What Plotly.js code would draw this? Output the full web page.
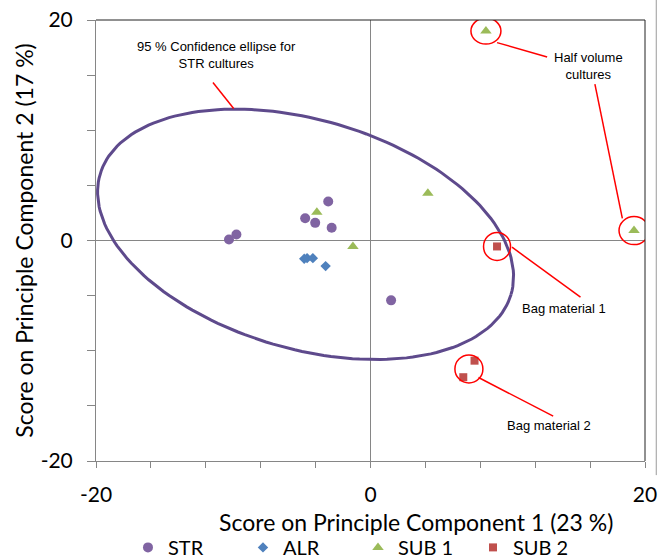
<!DOCTYPE html>
<html><head><meta charset="utf-8">
<script src="https://cdn.plot.ly/plotly-3.0.1.min.js"></script>
<style>html,body{margin:0;padding:0;background:#fff}#chart{width:658px;height:558px}</style>
</head><body><div id="chart"></div>
<script>
// ---- data ----
const strX  = [-10.31, -9.77, -4.76, -4.03, -3.08, -2.83, 1.50];
const strY  = [0.09, 0.54, 2.02, 1.60, 3.53, 1.15, -5.43];
const alrX  = [-4.83, -4.62, -4.20, -3.27];
const alrY  = [-1.66, -1.60, -1.60, -2.32];
const sub1X = [-3.91, -1.28, 4.18, 8.41, 19.20];
const sub1Y = [2.56, -0.54, 4.28, 19.00, 0.90];
const sub2X = [9.22, 7.58, 6.76];
const sub2Y = [-0.54, -10.90, -12.40];

// 95% confidence ellipse (centre and axis vectors, data units)
const ellipseCenter = [-4.73, 0.56];
const ellipseU = [14.97, -5.457];   // first conjugate semi-axis
const ellipseV = [-2.365, -9.958];  // second conjugate semi-axis

const xTickVals = [-20,-16,-12,-8,-4,0,4,8,12,16,20];
const xTickText = ['-20','','','','','0','','','','','20'];
const yTickVals = [-20,-15,-10,-5,0,5,10,15,20];
const yTickText = ['-20','','','','0','','','','20'];

const xTitle = 'Score on Principle Component 1 (23 %)';
const yTitle = 'Score on Principle Component 2 (17 %)';

// annotation anchors (points that are circled)
const halfVol1 = [8.41, 19.00];
const halfVol2 = [19.20, 0.90];
const bag1 = [9.22, -0.54];
const bag2 = [7.17, -11.65];

// ---- build ellipse ----
const ex = [], ey = [];
for (let i = 0; i <= 180; i++) {
  const t = 2 * Math.PI * i / 180;
  ex.push(ellipseCenter[0] + ellipseU[0] * Math.cos(t) + ellipseV[0] * Math.sin(t));
  ey.push(ellipseCenter[1] + ellipseU[1] * Math.cos(t) + ellipseV[1] * Math.sin(t));
}

const traces = [
  {x: ex, y: ey, mode: 'lines', line: {color: '#5E4A8C', width: 3}, showlegend: false, hoverinfo: 'skip'},
  {x: strX, y: strY, name: 'STR', mode: 'markers', marker: {symbol: 'circle', size: 10, color: '#8064A2'}},
  {x: alrX, y: alrY, name: 'ALR', mode: 'markers', marker: {symbol: 'diamond', size: 8, color: '#4F81BD'}},
  {x: sub1X, y: sub1Y, name: 'SUB 1', mode: 'markers', marker: {symbol: 'triangle-up', size: 10, color: '#9BBB59'}},
  {x: sub2X, y: sub2Y, name: 'SUB 2', mode: 'markers', marker: {symbol: 'square', size: 8, color: '#C0504D'}}
];

const red = {color: '#FF0000', width: 1.5};
function ring(c, rx, ry) {
  return {type: 'circle', xref: 'x', yref: 'y', xsizemode: 'pixel', ysizemode: 'pixel',
          xanchor: c[0], yanchor: c[1], x0: -rx, x1: rx, y0: -ry, y1: ry, line: red, layer: 'above'};
}
function seg(x0, y0, x1, y1) {
  return {type: 'line', xref: 'x', yref: 'y', x0, y0, x1, y1, line: red, layer: 'above'};
}

const shapes = [
  ring(halfVol1, 15, 13),
  ring(halfVol2, 15, 14),
  ring(bag1, 13.5, 14),
  ring(bag2, 14, 14),
  seg(-11.48, 14.33, -9.97, 11.97),
  seg(9.22, 17.95, 12.87, 16.65),
  seg(16.35, 14.18, 18.35, 2.0),
  seg(10.31, -0.61, 15.30, -5.13),
  seg(7.87, -12.43, 13.31, -15.93),
  // plot-area frame (top/right dark)
  {type: 'line', xref: 'paper', yref: 'paper', x0: 0, x1: 1, y0: 1, y1: 1, line: {color: '#222', width: 1}},
  {type: 'line', xref: 'paper', yref: 'paper', x0: 1, x1: 1, y0: 0, y1: 1, line: {color: '#222', width: 1}},
  // outer chart border (right edge)
  {type: 'line', xref: 'paper', yref: 'paper', x0: 1.0205, x1: 1.0205, y0: -0.032, y1: 1.05, line: {color: '#9a9a9a', width: 1}}
];

const annFont = {family: 'Liberation Sans, Arial, sans-serif', size: 13, color: '#000'};
function note(text, x, y) {
  return {text, x, y, xref: 'x', yref: 'y', showarrow: false, font: annFont, align: 'center'};
}
const axFont = {family: 'Lato, Calibri, sans-serif', size: 21, color: '#000'};
const titleFont = {family: 'Lato, Calibri, sans-serif', size: 23, color: '#000'};

const annotations = [
  note('95 % Confidence ellipse for<br>STR cultures', -11.23, 16.83),
  note('Half volume<br>cultures', 15.91, 15.79),
  note('Bag material 1', 14.08, -6.18),
  note('Bag material 2', 12.99, -16.8),
  // x-axis title (offset to the right as in the reference)
  {text: xTitle, xref: 'paper', yref: 'paper', x: 0.583, y: -0.1383, xanchor: 'center', yanchor: 'middle',
   showarrow: false, font: titleFont}
];

const layout = {
  width: 658, height: 558,
  margin: {l: 96, r: 13, t: 20, b: 97},
  paper_bgcolor: '#fff', plot_bgcolor: '#fff',
  font: {family: 'Lato, sans-serif', color: '#000'},
  xaxis: {
    range: [-20, 20], tickvals: xTickVals, ticktext: xTickText,
    ticks: 'outside', ticklen: 6, tickcolor: '#868686', tickwidth: 1,
    showline: true, linecolor: '#868686', linewidth: 1,
    showgrid: false, zeroline: true, zerolinecolor: '#868686', zerolinewidth: 1,
    tickfont: axFont, ticklabelstandoff: 9,
    automargin: false, fixedrange: true
  },
  yaxis: {
    range: [-20, 20], tickvals: yTickVals, ticktext: yTickText,
    ticks: 'outside', ticklen: 8, tickcolor: '#868686', tickwidth: 1,
    showline: true, linecolor: '#868686', linewidth: 1,
    showgrid: false, zeroline: true, zerolinecolor: '#868686', zerolinewidth: 1,
    tickfont: axFont, ticklabelstandoff: 10,
    title: {text: yTitle, font: titleFont, standoff: 0},
    automargin: false, fixedrange: true
  },
  showlegend: true,
  legend: {
    orientation: 'h', xref: 'container', yref: 'container',
    x: 0.1945, xanchor: 'left', y: 0.019, yanchor: 'middle',
    font: {family: 'Lato, sans-serif', size: 20, color: '#000'},
    entrywidth: 70, entrywidthmode: 'pixels', bgcolor: 'rgba(0,0,0,0)', traceorder: 'normal'
  },
  shapes, annotations
};

Plotly.newPlot('chart', traces, layout, {displayModeBar: false, staticPlot: true});
</script></body></html>
